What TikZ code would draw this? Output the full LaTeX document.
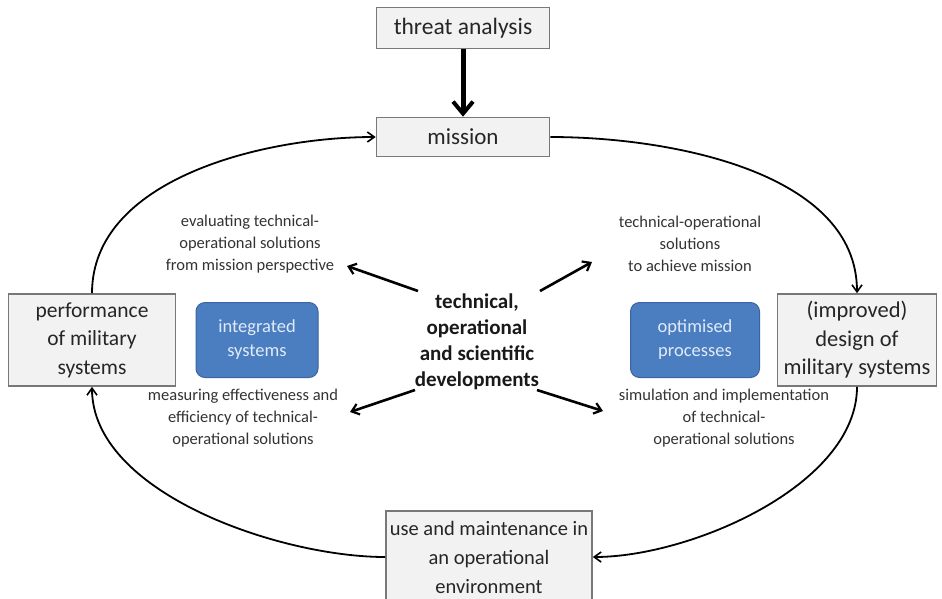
\documentclass[tikz,border=0pt]{standalone}
\usepackage{fontspec}
\setmainfont{Carlito}
\usetikzlibrary{arrows.meta}
\definecolor{boxfill}{RGB}{242,242,242}
\definecolor{boxline}{RGB}{120,120,120}
\definecolor{bluefill}{RGB}{74,126,192}
\definecolor{blueline}{RGB}{60,100,160}
\definecolor{bluetext}{RGB}{225,235,248}
\tikzset{
  graybox/.style={draw=boxline, line width=1.6pt, fill=boxfill, align=center, inner sep=0pt,
    font=\fontsize{21.5}{28.5}\selectfont, text=black!85},
  bluebox/.style={draw=blueline, line width=1pt, fill=bluefill, rounded corners=9pt, align=center,
    inner sep=0pt, font=\fontsize{18.5}{24}\selectfont, text=bluetext},
  smalllabel/.style={align=center, font=\fontsize{16.5}{22}\selectfont, text=black!80, inner sep=0pt},
  cycle/.style={line width=1.8pt, -{Straight Barb[length=7pt,width=10pt,line width=1.6pt]}},
  spoke/.style={line width=2.6pt, -{Straight Barb[length=7pt,width=11pt,line width=2.2pt]}},
}
\begin{document}
\begin{tikzpicture}[x=1pt,y=-1pt]
\clip (0,0) rectangle (942,598);
\fill[white] (0,0) rectangle (942,598);

\node[graybox, minimum width=173, minimum height=41, font=\fontsize{23.5}{28}\selectfont] (threat) at (463,28) {threat analysis};
\node[graybox, minimum width=173, minimum height=39, font=\fontsize{23}{28}\selectfont] (mission) at (463,137) {mission};
\node[graybox, minimum width=167, minimum height=92] (perf) at (92,340) {performance\\of military\\systems};
\node[graybox, minimum width=159, minimum height=92, font=\fontsize{22.5}{28.5}\selectfont] (design) at (857,340) {(improved)\\design of\\military systems};
\node[graybox, minimum width=206, minimum height=92, font=\fontsize{20.5}{29}\selectfont] (use) at (489,557) {use and maintenance in\\an operational\\environment};

\node[bluebox, minimum width=122, minimum height=75] (integ) at (257,340) {integrated\\systems};
\node[bluebox, minimum width=129, minimum height=75] (optim) at (695,340) {optimised\\processes};

\node[align=center, inner sep=0pt, font=\fontsize{21}{26}\selectfont\bfseries, text=black!90] (center) at (477,342)
  {technical,\\operational\\and scientific\\developments};

\node[smalllabel] (eval) at (250,244) {evaluating technical-\\operational solutions\\from mission perspective};
\node[smalllabel] (achieve) at (690,244) {technical-operational\\solutions\\to achieve mission};
\node[smalllabel] (measure) at (243,418) {measuring effectiveness and\\efficiency of technical-\\operational solutions};
\node[smalllabel] (simul) at (724,418) {simulation and implementation\\of technical-\\operational solutions};

% thick arrow
\draw[line width=5pt, -{Straight Barb[length=12pt,width=20pt,line width=4pt]}] (threat.south) -- (mission.north);

% cycle
\draw[cycle] (perf.north) to[out=90, in=180, looseness=0.9] (mission.west);
\draw[cycle] (mission.east) to[out=0, in=90, looseness=0.9] (design.north);
\draw[cycle] (design.south) to[out=-90, in=0, looseness=0.8] (use.east);
\draw[cycle] (use.west) to[out=180, in=-90, looseness=0.8] (perf.south);

% spokes
\coordinate (s1) at (418,291); \coordinate (e1) at (347,266);
\coordinate (s2) at (540,291); \coordinate (e2) at (592,262);
\coordinate (s3) at (415,390); \coordinate (e3) at (350,412);
\coordinate (s4) at (537,390); \coordinate (e4) at (603,411);
\draw[spoke] (s1) -- (e1);
\draw[spoke] (s2) -- (e2);
\draw[spoke] (s3) -- (e3);
\draw[spoke] (s4) -- (e4);
\end{tikzpicture}
\end{document}
